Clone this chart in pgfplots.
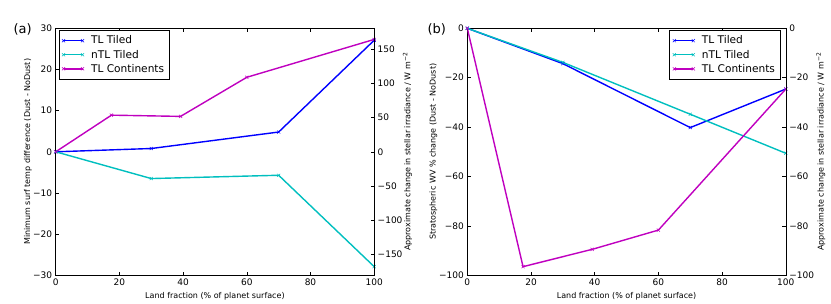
\documentclass[border=0pt]{standalone}
\usepackage{pgfplots}
\pgfplotsset{compat=1.18}
\usepackage{fontspec}
\setmainfont{DejaVu Sans}
\definecolor{mb}{rgb}{0,0,1}
\definecolor{mc}{rgb}{0,0.75,0.75}
\definecolor{mm}{rgb}{0.75,0,0.75}
\pgfplotsset{
  base/.style={scale only axis, width=318.5pt, height=247pt, anchor=south west,
    xmin=0, xmax=100, xtick={0,20,...,100},
    tick align=inside, major tick length=3.5pt,
    tick style={black, line width=0.5pt}, axis line style={line width=0.6pt},
    ticklabel style={font=\fontsize{9}{10}\selectfont},
    label style={font=\fontsize{8}{9}\selectfont},
    /pgf/number format/assume math mode=true},
  ser/.style={line width=1.4pt, mark=x, mark size=2.2pt, mark options={line width=0.5pt}},
  legend image code/.code={\draw[#1, line width=1.4pt] plot coordinates {(0pt,0pt) (19pt,0pt)};},
  every axis legend/.append style={font=\fontsize{10.6}{12}\selectfont, draw=black, line width=0.8pt,
      fill=white, inner xsep=3pt, inner ysep=3.5pt, row sep=0.5pt, column sep=5pt, cells={anchor=west}},
}
\begin{document}
\begin{tikzpicture}
\useasboundingbox (0,0) rectangle (831pt,304pt);
% ---------- (a)
\begin{axis}[base, at={(55.7pt,28.7pt)},
  ymin=-30, ymax=30, ytick={-30,-20,...,30},
  yticklabels={−30,−20,−10,0,10,20,30}, ytick pos=left,
  xlabel={Land fraction (\% of planet surface)},
  ylabel={Minimum surf temp difference (Dust - NoDust)},
  ylabel style={at={(axis description cs:-0.087,0.5)}, anchor=center},
  legend style={at={(0.009,0.993)}, anchor=north west}]
\addplot[ser, mb] coordinates {(0,0) (30,0.8) (70,4.8) (100,27.1)};
\addlegendentry{TL Tiled}
\addplot[ser, mc] coordinates {(0,0) (30,-6.5) (70,-5.7) (100,-27.9)};
\addlegendentry{nTL Tiled}
\addplot[ser, mm] coordinates {(0,0) (17.5,8.9) (39.2,8.6) (60,18.1) (100,27.3)};
\addlegendentry{TL Continents}
\end{axis}
\begin{axis}[base, at={(55.7pt,28.7pt)}, axis x line=none, axis y line*=right,
  tick align=inside,
  ymin=-180, ymax=180, ytick={-150,-100,...,150},
  yticklabels={−150,−100,−50,0,50,100,150},
  ylabel={Approximate change in stellar irradiance / W m\textsuperscript{−2}},
  ylabel style={at={(axis description cs:1.1045,0.5)}, anchor=center, rotate=0}]
\end{axis}
% ---------- (b)
\begin{axis}[base, at={(467.3pt,28.7pt)},
  ymin=-100, ymax=0, ytick={-100,-80,...,0},
  yticklabels={−100,−80,−60,−40,−20,0}, ytick pos=left,
  xlabel={Land fraction (\% of planet surface)},
  ylabel={Stratospheric WV \% change (Dust - NoDust)},
  ylabel style={at={(axis description cs:-0.106,0.5)}, anchor=center},
  legend style={at={(0.983,0.993)}, anchor=north east}]
\addplot[ser, mb] coordinates {(0,0) (30,-14.3) (70,-40.2) (100,-24.6)};
\addlegendentry{TL Tiled}
\addplot[ser, mc] coordinates {(0,0) (30,-13.8) (70,-34.8) (100,-50.6)};
\addlegendentry{nTL Tiled}
\addplot[ser, mm] coordinates {(0,0) (17.5,-96.5) (39.2,-89.5) (60,-81.7) (100,-24.6)};
\addlegendentry{TL Continents}
\end{axis}
\begin{axis}[base, at={(467.3pt,28.7pt)}, axis x line=none, axis y line*=right,
  tick align=inside,
  ymin=-100, ymax=0, ytick={-100,-80,...,0},
  yticklabels={−100,−80,−60,−40,−20,0},
  ylabel={Approximate change in stellar irradiance / W m\textsuperscript{−2}},
  ylabel style={at={(axis description cs:1.110,0.5)}, anchor=center, rotate=0}]
\end{axis}
\node[anchor=west, font=\fontsize{13}{14}\selectfont] at (10pt,275pt) {(a)};
\node[anchor=west, font=\fontsize{13}{14}\selectfont] at (424pt,275pt) {(b)};
\end{tikzpicture}
\end{document}
